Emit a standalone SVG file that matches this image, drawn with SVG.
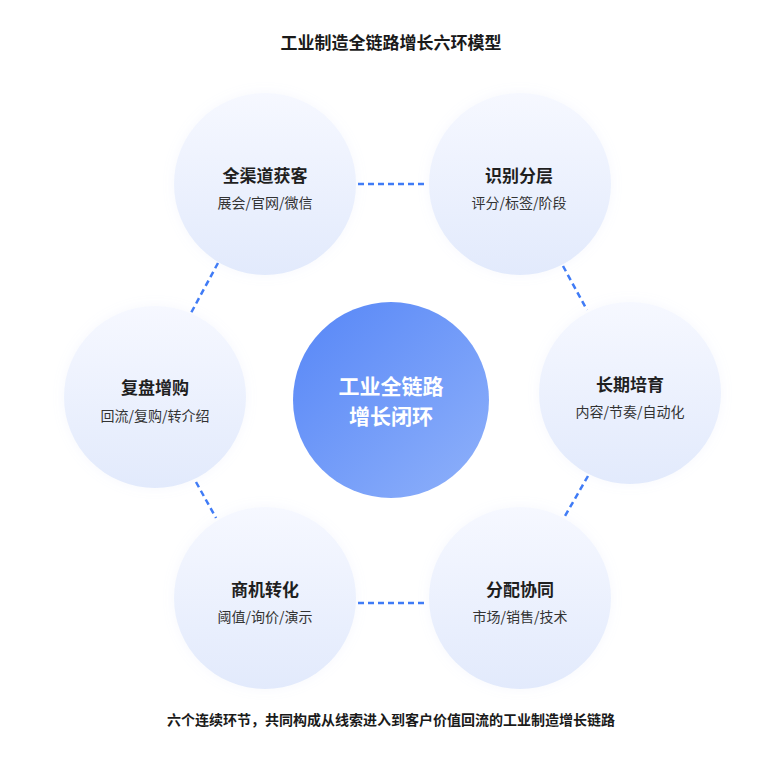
<svg xmlns="http://www.w3.org/2000/svg" width="782" height="762" viewBox="0 0 782 762">
<defs>
<linearGradient id="g-node" x1="0" y1="0" x2="0" y2="1">
<stop offset="0" stop-color="#f6f8ff"/>
<stop offset="1" stop-color="#e2eafc"/>
</linearGradient>
<linearGradient id="g-core" x1="0" y1="0" x2="1" y2="1">
<stop offset="0" stop-color="#5686f7"/>
<stop offset="1" stop-color="#8fb1fa"/>
</linearGradient>
<filter id="glow" x="-30%" y="-30%" width="160%" height="160%">
<feGaussianBlur in="SourceAlpha" stdDeviation="6"/>
<feColorMatrix values="0 0 0 0 0.45  0 0 0 0 0.55  0 0 0 0 0.85  0 0 0 0.12 0"/>
<feMerge><feMergeNode/><feMergeNode in="SourceGraphic"/></feMerge>
</filter>
<style>
text{font-family:"Noto Sans CJK SC","Noto Sans",sans-serif;text-anchor:middle}
.title{font-size:17px;font-weight:700;fill:#1a1a1a}
.foot{font-size:14px;font-weight:700;fill:#1a1a1a}
.nt{font-size:17px;font-weight:700;fill:#1f1f1f}
.ns{font-size:14px;fill:#333}
.ct{font-size:21px;font-weight:700;fill:#fff}
.node{fill:url(#g-node);filter:url(#glow)}
.conn{stroke:#3f7bf6;stroke-width:2.5;stroke-dasharray:6 4;fill:none}
</style>
</defs>
<rect width="782" height="762" fill="#fff"/>
<text class="title" x="391" y="49">工业制造全链路增长六环模型</text>
<g id="connectors">
<line class="conn" x1="358" y1="184" x2="428" y2="184"/>
<line class="conn" x1="563" y1="266" x2="587" y2="310"/>
<line class="conn" x1="588" y1="476" x2="565" y2="516"/>
<line class="conn" x1="358" y1="603" x2="428" y2="603"/>
<line class="conn" x1="196" y1="482" x2="216" y2="518"/>
<line class="conn" x1="218" y1="263" x2="191" y2="313"/>
</g>
<g id="n1"><circle class="node" cx="265" cy="184" r="91"/><text class="nt" x="265" y="182">全渠道获客</text><text class="ns" x="265" y="208">展会/官网/微信</text></g>
<g id="n2"><circle class="node" cx="520" cy="184" r="91"/><text class="nt" x="519" y="182">识别分层</text><text class="ns" x="519" y="208">评分/标签/阶段</text></g>
<g id="n3"><circle class="node" cx="630" cy="393" r="91"/><text class="nt" x="630" y="391">长期培育</text><text class="ns" x="630" y="417">内容/节奏/自动化</text></g>
<g id="n4"><circle class="node" cx="520" cy="598" r="91"/><text class="nt" x="520" y="596">分配协同</text><text class="ns" x="520" y="622">市场/销售/技术</text></g>
<g id="n5"><circle class="node" cx="265" cy="598" r="91"/><text class="nt" x="265" y="596">商机转化</text><text class="ns" x="265" y="622">阈值/询价/演示</text></g>
<g id="n6"><circle class="node" cx="155" cy="397" r="91"/><text class="nt" x="155" y="394">复盘增购</text><text class="ns" x="155" y="421">回流/复购/转介绍</text></g>
<g id="core"><circle cx="391" cy="400" r="98" fill="url(#g-core)"/><text class="ct" x="391" y="394">工业全链路</text><text class="ct" x="391" y="424">增长闭环</text></g>
<text class="foot" x="391" y="725">六个连续环节，共同构成从线索进入到客户价值回流的工业制造增长链路</text>
</svg>
